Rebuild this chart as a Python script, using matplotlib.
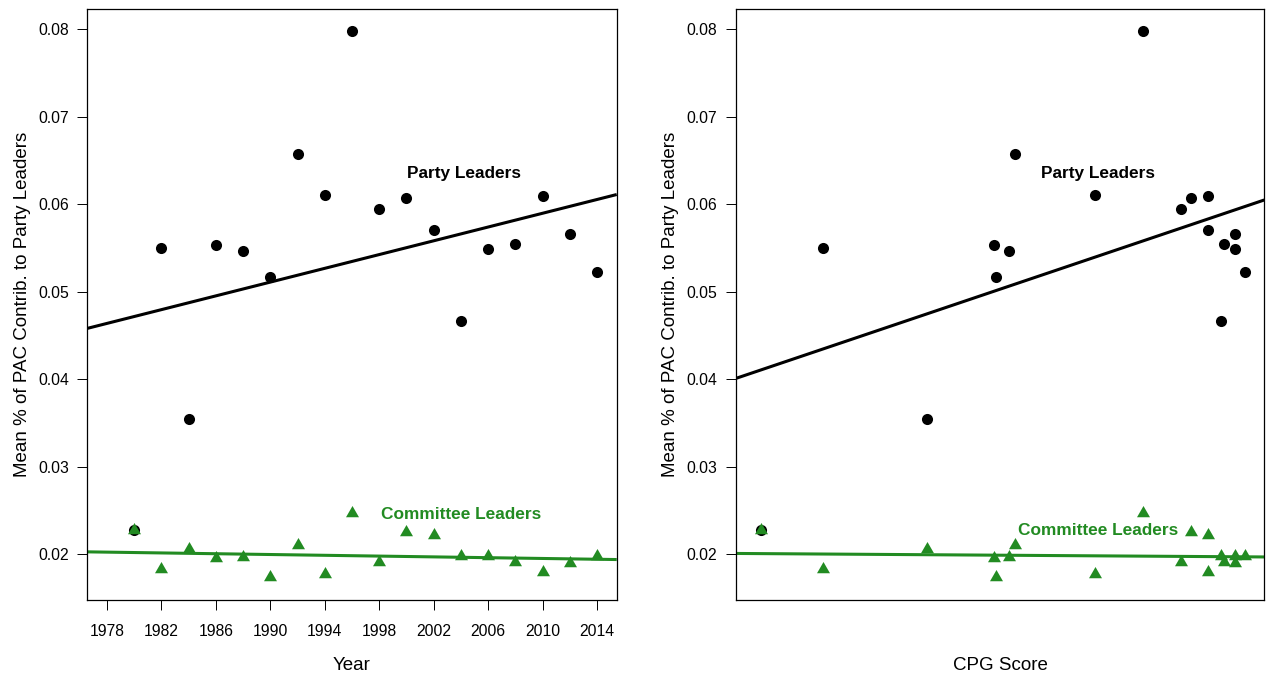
import numpy as np
import matplotlib
matplotlib.use("Agg")
import matplotlib.pyplot as plt

plt.rcParams['font.family'] = ['Liberation Sans', 'DejaVu Sans']

# Election years
years = [1980, 1982, 1984, 1986, 1988, 1990, 1992, 1994, 1996,
         1998, 2000, 2002, 2004, 2006, 2008, 2010, 2012, 2014]

# Mean share of PAC contributions going to party leaders
party = [0.0228, 0.0550, 0.0355, 0.0554, 0.0547, 0.0517, 0.0658, 0.0611, 0.0798,
         0.0595, 0.0607, 0.0571, 0.0467, 0.0549, 0.0555, 0.0609, 0.0566, 0.0523]

# Mean share of PAC contributions going to committee leaders
committee = [0.0228, 0.0183, 0.0206, 0.0196, 0.0197, 0.0174, 0.0211, 0.0177, 0.0247,
             0.0191, 0.0226, 0.0222, 0.0198, 0.0198, 0.0191, 0.0180, 0.0190, 0.0198]

# Conditional party government score for each election year
cpg = [0.048, 0.166, 0.361, 0.488, 0.517, 0.492, 0.529, 0.679, 0.771,
       0.843, 0.861, 0.893, 0.918, 0.944, 0.924, 0.894, 0.944, 0.963]

# Fitted trend lines: (reference x, value at reference x, slope per unit x)
party_year_fit = (1978, 0.04639, 0.0003935)
committee_year_fit = (1978, 0.02025, -0.0000226)
party_cpg_fit = (0.0, 0.0401, 0.0204)
committee_cpg_fit = (0.0, 0.0201, -0.0004)

year_ticks = list(range(1978, 2015, 4))
y_ticks = [0.02, 0.03, 0.04, 0.05, 0.06, 0.07, 0.08]

GREEN = '#228B22'
W, H = 1268, 679
fig = plt.figure(figsize=(W / 100, H / 100), dpi=100)

def px_axes(x0, x1, y0, y1):
    return fig.add_axes([x0 / W, 1 - y1 / H, (x1 - x0) / W, (y1 - y0) / H])

ax1 = px_axes(87.3, 616.7, 8.7, 600)
ax2 = px_axes(735.7, 1264.3, 8.7, 600)

ylim = (0.01478, 0.08236)

def draw_fit(ax, fit, xlim, color):
    x0, y0, b = fit
    xs = np.array(xlim)
    ax.plot(xs, y0 + b * (xs - x0), color=color, lw=2.2, solid_capstyle='butt', zorder=2)

def style(ax):
    ax.set_ylim(*ylim)
    ax.set_yticks(y_ticks)
    ax.set_yticklabels([f"{v:.2f}" for v in y_ticks])
    for s in ax.spines.values():
        s.set_linewidth(0.9)
        s.set_color('black')
    ax.tick_params(axis='y', length=7.2, width=0.7, pad=6, labelsize=11.3, colors='black')
    ax.set_ylabel("Mean % of PAC Contrib. to Party Leaders", fontsize=13.5, va='center')
    ax.yaxis.set_label_coords(-0.123, 0.5)

# Left panel: by year
xl1 = (1976.56, 2015.44)
ax1.set_xlim(*xl1)
draw_fit(ax1, party_year_fit, xl1, 'black')
draw_fit(ax1, committee_year_fit, xl1, GREEN)
ax1.plot(years, party, 'o', color='black', ms=8, mec='none', zorder=3)
ax1.plot(years, committee, marker=(3, 0, 0), ls='none', color=GREEN, ms=10.8, mec='none', zorder=4)
ax1.set_xticks(year_ticks)
ax1.set_xticklabels([str(y) for y in year_ticks])
ax1.tick_params(axis='x', length=7.2, width=0.7, pad=10, labelsize=11.3, colors='black')
ax1.text(2004.2, 0.0635, "Party Leaders", fontsize=12.4, fontweight='bold', ha='center', va='center')
ax1.text(2004.0, 0.0246, "Committee Leaders", fontsize=12.4, fontweight='bold', color=GREEN,
         ha='center', va='center')
ax1.set_xlabel("Year", fontsize=13.5, va='center')
ax1.xaxis.set_label_coords(0.5, -0.11)
style(ax1)

# Right panel: by CPG score
xl2 = (0.0, 1.0)
ax2.set_xlim(*xl2)
draw_fit(ax2, party_cpg_fit, xl2, 'black')
draw_fit(ax2, committee_cpg_fit, xl2, GREEN)
ax2.plot(cpg, party, 'o', color='black', ms=8, mec='none', zorder=3)
ax2.plot(cpg, committee, marker=(3, 0, 0), ls='none', color=GREEN, ms=10.8, mec='none', zorder=4)
ax2.set_xticks([])
ax2.text(0.685, 0.0635, "Party Leaders", fontsize=12.4, fontweight='bold', ha='center', va='center')
ax2.text(0.685, 0.0227, "Committee Leaders", fontsize=12.4, fontweight='bold', color=GREEN,
         ha='center', va='center')
ax2.set_xlabel("CPG Score", fontsize=13.5, va='center')
ax2.xaxis.set_label_coords(0.5, -0.11)
style(ax2)

fig.savefig("out.png", dpi=100)
